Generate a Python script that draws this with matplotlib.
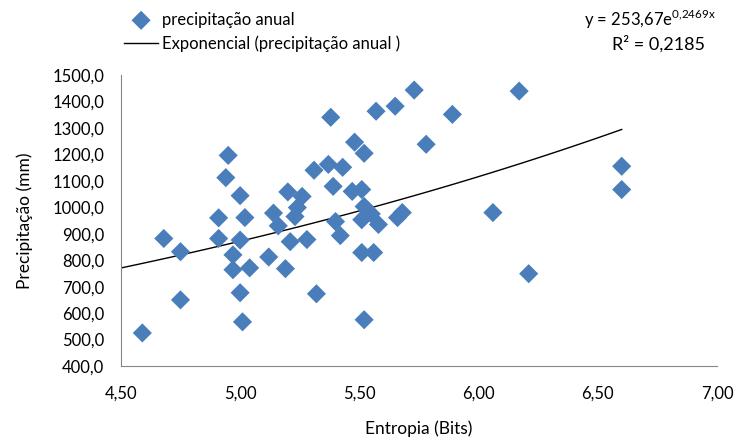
import matplotlib
matplotlib.use('Agg')
import matplotlib.pyplot as plt
import numpy as np

plt.rcParams['font.family'] = ['Lato', 'DejaVu Sans']
plt.rcParams['mathtext.fontset'] = 'custom'
plt.rcParams['mathtext.rm'] = 'Lato'

# entropia (bits) e precipitação anual (mm)
entropia = [4.59, 4.68, 4.75, 4.75, 4.91, 4.91, 4.94, 4.95, 5.00, 5.02,
            5.00, 4.97, 4.97, 5.04, 5.00, 5.01, 5.12, 5.19, 5.14, 5.16,
            5.21, 5.20, 5.26, 5.24, 5.23, 5.28, 5.31, 5.38, 5.57, 5.65,
            5.73, 5.89, 5.48, 5.52, 5.78, 5.37, 5.43, 5.39, 5.47, 5.51,
            5.52, 5.40, 5.51, 5.55, 5.58, 5.66, 5.68, 5.42, 5.51, 5.56,
            5.32, 5.52, 6.06, 6.17, 6.60, 6.60, 6.21]
precipitacao = [525, 882, 832, 650, 960, 882, 1112, 1196, 1044, 961,
                876, 820, 764, 771, 677, 567, 812, 768, 978, 930,
                870, 1058, 1041, 999, 965, 878, 1140, 1340, 1363, 1382,
                1443, 1351, 1246, 1204, 1238, 1162, 1151, 1079, 1060, 1067,
                1003, 946, 953, 975, 935, 961, 980, 893, 829, 829,
                673, 575, 980, 1439, 1155, 1067, 749]

# linha de tendência exponencial
a, b = 253.67, 0.2469

fig = plt.figure(figsize=(7.37, 4.41), dpi=100)
ax = fig.add_axes([0.164, 0.170, 0.809, 0.660])

ax.scatter(entropia, precipitacao, marker='D', s=95, color='#4A7EBB',
           edgecolors='none', zorder=3, label='precipitação anual')
xt = np.linspace(4.5, max(entropia), 100)
ax.plot(xt, a * np.exp(b * xt), color='black', lw=1.0,
        label='Exponencial (precipitação anual )')

ax.set_xlim(4.5, 7.0)
ax.set_ylim(400, 1500)
ax.set_xticks(np.arange(4.5, 7.01, 0.5))
ax.set_xticklabels([('%.2f' % v).replace('.', ',') for v in np.arange(4.5, 7.01, 0.5)])
ax.set_yticks(np.arange(400, 1501, 100))
ax.set_yticklabels([('%.1f' % v).replace('.', ',') for v in np.arange(400, 1501, 100)])
ax.tick_params(length=0, labelsize=12, pad=12)
ax.tick_params(axis='x', pad=14)
for s in ['top', 'right']:
    ax.spines[s].set_visible(False)
for s in ['left', 'bottom']:
    ax.spines[s].set_color('#868686')

ax.set_xlabel('Entropia (Bits)', fontsize=12.5, labelpad=14)
ax.set_ylabel('Precipitação (mm)', fontsize=12.5, labelpad=14)

fig.legend(loc='upper left', bbox_to_anchor=(0.153, 1.0), frameon=False,
           fontsize=12, handlelength=2.0, handletextpad=0.25, labelspacing=0.45,
           borderaxespad=0.3)

fig.text(0.882, 0.955, r'y = 253,67e$^{\mathrm{0{,}2469x}}$', ha='center', va='center', fontsize=12)
fig.text(0.893, 0.900, 'R² = 0,2185', ha='center', va='center', fontsize=13)

fig.savefig('out.png', dpi=100)
